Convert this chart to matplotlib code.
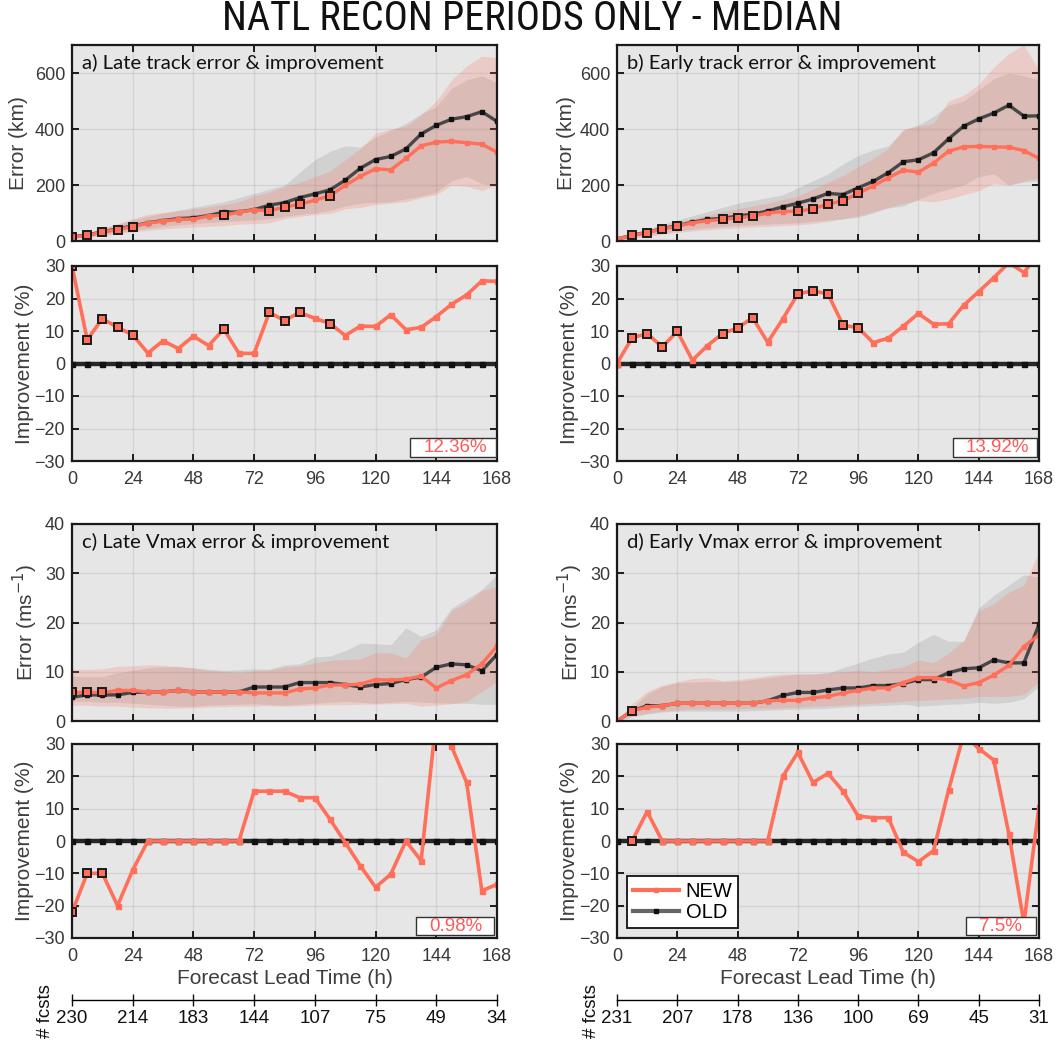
import numpy as np
import matplotlib
matplotlib.use("Agg")
import matplotlib.pyplot as plt
from matplotlib import font_manager
from matplotlib.lines import Line2D
from matplotlib.patches import Rectangle

plt.rcParams["font.family"] = ["Liberation Sans", "DejaVu Sans"]

HOURS = list(range(0, 169, 6))
XTICKS = [0, 24, 48, 72, 96, 120, 144, 168]

# ---- a) late track (km) ----
a_new = [14, 20, 32, 41, 51, 64, 71, 77, 78, 89, 92, 103, 111, 108, 121, 131, 146, 162,
         199, 231, 258, 254, 295, 340, 353, 356, 351, 346, 317]
a_old = [15, 22, 32, 44, 53, 65, 73, 80, 83, 91, 103, 104, 112, 128, 137, 155, 168, 183,
         217, 260, 291, 302, 329, 382, 413, 435, 444, 462, 427]
a_new_lo = [8, 12, 18, 25, 32, 38, 43, 47, 50, 52, 55, 60, 62, 65, 80, 88, 95, 98,
            115, 120, 130, 135, 140, 155, 165, 200, 195, 180, 200]
a_new_hi = [18, 28, 45, 62, 80, 95, 102, 108, 115, 122, 130, 140, 160, 175, 195, 210, 230, 250,
            290, 330, 385, 400, 410, 450, 500, 575, 625, 660, 655]
a_old_lo = [10, 15, 22, 30, 38, 45, 52, 58, 62, 66, 70, 72, 75, 80, 88, 95, 100, 110,
            125, 135, 138, 140, 150, 160, 175, 215, 230, 205, 195]
a_old_hi = [20, 30, 45, 60, 75, 88, 100, 110, 120, 130, 140, 155, 170, 185, 200, 245, 290, 320,
            340, 335, 370, 395, 420, 455, 480, 545, 575, 590, 565]
a_imp = [30, 7.3, 13.8, 11.1, 8.8, 3.2, 7.0, 4.6, 8.4, 5.5, 10.6, 3.1, 3.1, 15.7, 13.2, 15.7,
         13.9, 12.3, 8.6, 11.5, 11.4, 15.0, 10.4, 11.1, 14.4, 18.2, 21.1, 25.4, 25.3]
a_sig = [0, 6, 12, 18, 24, 60, 78, 84, 90, 102]

# ---- b) early track (km) ----
b_new = [7, 20, 30, 43, 53, 65, 72, 77, 83, 88, 100, 105, 106, 115, 132, 144, 170, 197,
         226, 253, 246, 278, 321, 336, 338, 336, 335, 323, 295]
b_old = [7, 21, 31, 44, 55, 67, 77, 81, 89, 96, 107, 122, 135, 150, 170, 166, 190, 213,
         244, 283, 290, 315, 365, 410, 436, 457, 485, 446, 447]
b_new_lo = [3, 10, 17, 24, 30, 36, 40, 44, 47, 50, 52, 55, 58, 62, 70, 80, 90, 105,
            120, 135, 145, 140, 150, 165, 180, 205, 200, 215, 225]
b_new_hi = [10, 25, 38, 55, 68, 80, 92, 105, 115, 125, 135, 148, 160, 185, 210, 235, 265, 295,
            330, 400, 410, 420, 500, 520, 560, 620, 670, 700, 610]
b_old_lo = [4, 12, 20, 28, 35, 42, 48, 52, 55, 58, 60, 63, 65, 70, 75, 78, 85, 100,
            118, 125, 150, 170, 185, 200, 230, 240, 200, 210, 215]
b_old_hi = [12, 28, 42, 60, 75, 90, 105, 120, 135, 145, 155, 165, 190, 215, 240, 275, 305, 325,
            340, 395, 415, 445, 485, 500, 540, 580, 600, 590, 575]
b_imp = [0, 7.9, 9.2, 5.1, 9.9, 1.0, 5.5, 9.2, 10.9, 14.1, 6.5, 13.7, 21.4, 22.4, 21.4, 11.8,
         11.0, 6.4, 7.8, 11.5, 15.4, 12.1, 12.2, 17.9, 22.1, 26.4, 31.0, 28.0, 34.0]
b_sig = [6, 12, 18, 24, 42, 48, 54, 72, 78, 84, 90, 96]

# ---- c) late Vmax (m/s) ----
c_new = [5.8, 5.8, 5.8, 6.2, 6.2, 5.9, 5.9, 6.2, 5.9, 5.9, 5.9, 5.9, 5.7, 5.7, 5.7, 6.5,
         6.7, 7.3, 7.3, 7.5, 8.4, 8.3, 8.5, 9.1, 6.7, 8.2, 9.4, 11.6, 15.2]
c_old = [4.8, 5.3, 5.3, 5.3, 5.8, 5.9, 5.9, 6.2, 5.9, 5.9, 5.9, 5.9, 6.9, 6.9, 6.9, 7.8,
         7.8, 7.8, 7.4, 6.9, 7.4, 7.6, 8.4, 8.9, 10.9, 11.6, 11.4, 10.2, 13.5]
c_new_lo = [3.2, 3.2, 3.0, 3.0, 2.8, 2.7, 2.6, 2.6, 2.7, 2.8, 2.9, 3.0, 3.0, 3.1, 3.0, 3.1,
            3.2, 3.3, 3.3, 3.4, 3.4, 3.5, 3.6, 3.0, 3.2, 3.5, 4.0, 6.0, 8.0]
c_new_hi = [10.5, 10.5, 10.6, 11.1, 11.2, 11.4, 11.3, 11.0, 10.8, 10.3, 10.0, 9.8, 10.2, 10.4,
            11.0, 11.2, 11.8, 12.3, 12.5, 12.6, 13.9, 13.8, 12.8, 16.5, 17.5, 22.4, 24.0, 26.5, 27.3]
c_old_lo = [4.0, 4.0, 3.8, 3.8, 3.6, 3.4, 3.2, 3.0, 3.0, 3.2, 3.3, 3.4, 3.5, 3.3, 3.2, 3.4,
            3.6, 3.8, 4.0, 3.8, 3.6, 3.8, 4.0, 3.8, 3.7, 3.6, 3.6, 3.4, 3.4]
c_old_hi = [9.1, 9.0, 9.0, 9.8, 10.3, 10.8, 11.0, 11.1, 10.8, 10.5, 10.3, 10.4, 10.6, 10.5,
            11.4, 11.6, 13.0, 13.2, 14.3, 15.8, 15.7, 15.5, 18.9, 17.2, 18.5, 22.9, 24.8, 26.7, 29.7]
c_imp = [-22.1, -10.0, -10.0, -20.0, -9.0, 0, 0, 0, 0, 0, 0, 0, 15.4, 15.4, 15.4, 13.4, 13.4,
         6.7, -0.5, -7.7, -14.3, -10.3, 0, -6.1, 38.0, 29.3, 18.1, -15.4, -13.4]
c_sig = [0, 6, 12]

# ---- d) early Vmax (m/s) ----
d_new = [0, 2.05, 2.8, 3.1, 3.6, 3.6, 3.6, 3.6, 3.6, 3.6, 4.1, 4.2, 4.2, 4.7, 5.0, 5.7,
         6.2, 6.7, 6.7, 7.8, 8.8, 8.8, 8.3, 7.1, 7.8, 9.3, 11.3, 15.1, 17.5]
d_old = [0, 2.05, 3.1, 3.1, 3.6, 3.6, 3.6, 3.6, 3.6, 3.6, 4.1, 5.2, 5.8, 5.8, 6.3, 6.7,
         6.7, 7.2, 7.2, 7.6, 8.4, 8.4, 9.8, 10.6, 10.8, 12.4, 11.8, 11.8, 19.6]
d_new_lo = [0, 1.0, 1.6, 2.0, 2.2, 2.4, 2.4, 2.4, 2.5, 2.6, 2.6, 2.7, 2.8, 3.0, 3.1, 3.2,
            3.4, 3.6, 3.8, 4.0, 4.2, 4.3, 4.5, 4.6, 5.0, 5.0, 5.0, 5.4, 8.0]
d_new_hi = [0, 3.5, 6.0, 7.3, 8.0, 8.6, 8.8, 8.2, 8.4, 8.8, 9.2, 9.6, 9.6, 9.5, 9.8, 10.0,
            10.3, 10.0, 10.5, 11.0, 12.4, 11.8, 13.8, 16.3, 22.4, 23.8, 26.2, 27.6, 34.4]
d_old_lo = [0, 0.8, 1.4, 1.8, 2.0, 2.0, 2.0, 2.0, 2.0, 2.1, 2.2, 2.3, 2.4, 2.5, 2.6, 2.8,
            3.0, 3.1, 3.2, 3.4, 3.0, 3.2, 3.4, 3.5, 3.8, 3.6, 3.8, 4.5, 7.0]
d_old_hi = [0, 2.5, 5.5, 7.0, 7.8, 7.9, 8.0, 8.0, 8.1, 8.4, 8.8, 9.2, 9.5, 9.6, 9.8, 10.8,
            11.8, 12.8, 13.6, 14.0, 16.0, 17.6, 16.2, 16.2, 23.0, 25.5, 27.6, 29.7, 29.2]
d_imp = [np.nan, 0, 9.1, 0, 0, 0, 0, 0, 0, 0, 0, 20.0, 27.4, 18.1, 20.9, 15.4, 7.7, 7.2,
         7.2, -3.5, -6.4, -3.0, 15.7, 33.0, 28.6, 25.0, 2.2, -25.4, 10.6]
d_sig = [6]

PCT = ["12.36%", "13.92%", "0.98%", "7.5%"]
NFC_LEFT = ["230", "214", "183", "144", "107", "75", "49", "34"]
NFC_RIGHT = ["231", "207", "178", "136", "100", "69", "45", "31"]

NEW_C = "#ff6f59"
OLD_C = "#474747"
BG = "#e6e6e6"
TXT = "#3d3d3d"

W, H = 1064, 1040


def rect(x0, y0, x1, y1):
    return [x0 / W, 1 - y1 / H, (x1 - x0) / W, (y1 - y0) / H]


def narrow_font():
    # a condensed sans for the headline, if one is installed
    prefer = ["Liberation Sans Narrow", "Roboto Condensed", "Open Sans Condensed",
              "Noto Sans", "DejaVu Sans", "Roboto", "Open Sans", "Lato"]
    cands = []
    for f in font_manager.fontManager.ttflist:
        cond = ("Narrow" in f.name or "Condensed" in f.name
                or f.stretch in ("condensed", "semi-condensed", "extra-condensed"))
        if not cond or f.style != "normal":
            continue
        w = f.weight if isinstance(f.weight, int) else 400
        if w < 300 or w > 450:
            continue
        rank = prefer.index(f.name) if f.name in prefer else len(prefer)
        cands.append((rank, abs(w - 400), f.fname))
    if cands:
        cands.sort()
        return font_manager.FontProperties(fname=cands[0][2])
    return font_manager.FontProperties(family="Liberation Sans")


def style(ax, ylim, yticks, show_x):
    ax.set_facecolor(BG)
    ax.set_xlim(0, 168)
    ax.set_ylim(*ylim)
    ax.set_xticks(XTICKS)
    ax.set_yticks(yticks)
    ax.grid(True, color="#262626", alpha=0.09, lw=1.0)
    ax.set_axisbelow(True)
    ax.tick_params(direction="in", length=5, width=1.4, top=True, right=True,
                   labelsize=13, colors="#1a1a1a", labelcolor="#383838", pad=5)
    ax.tick_params(axis="x", pad=7)
    if not show_x:
        ax.tick_params(labelbottom=False)
    for s in ax.spines.values():
        s.set_linewidth(1.6)
        s.set_color("#1a1a1a")


def draw_error(ax, new, old, nlo, nhi, olo, ohi, sig, ylim, yticks, title, ylabel, lx):
    h = np.array(HOURS)
    style(ax, ylim, yticks, False)
    ax.fill_between(h, olo, ohi, color="k", alpha=0.09, lw=0)
    ax.fill_between(h, nlo, nhi, color=NEW_C, alpha=0.22, lw=0)
    ax.plot(h, old, "-s", color=OLD_C, lw=2.4, ms=3.3, mfc="#111111", mec="#111111")
    ax.plot(h, new, "-s", color=NEW_C, lw=2.4, ms=3.3, mfc=NEW_C, mec=NEW_C)
    idx = [HOURS.index(t) for t in sig]
    ax.plot(h[idx], np.array(new)[idx], "s", ms=6.3, mfc=NEW_C, mec="#1a1a1a", mew=1.4)
    ax.text(0.023, 0.955, title, transform=ax.transAxes, ha="left", va="top",
            fontsize=14.6, family=["Lato", "DejaVu Sans"], color="#111111")
    ax.set_ylabel(ylabel, fontsize=15, color=TXT)
    ax.yaxis.set_label_coords(lx, 0.5)


def draw_imp(ax, imp, sig, pct, box, lx, show_label):
    h = np.array(HOURS)
    style(ax, (-30, 30), range(-30, 31, 10), True)
    ax.plot(h, np.zeros(len(h)), "-s", color="#262626", lw=3.2, ms=3.6,
            mfc="#111111", mec="#111111")
    ax.plot(h, imp, "-s", color=NEW_C, lw=2.6, ms=3.6, mfc=NEW_C, mec=NEW_C)
    idx = [HOURS.index(t) for t in sig]
    ax.plot(h[idx], np.array(imp)[idx], "s", ms=6.3, mfc=NEW_C, mec="#1a1a1a", mew=1.4)
    x0, y0, w, hh, xt = box
    ax.add_patch(Rectangle((x0, y0), w, hh, transform=ax.transAxes, facecolor="white",
                           edgecolor="#333333", lw=1.0, zorder=5))
    ax.text(xt, y0 + hh / 2, pct, transform=ax.transAxes, ha="right", va="center",
            fontsize=13.5, color="#ff5a5a", zorder=6)
    ax.set_ylabel("Improvement (%)", fontsize=15, color=TXT)
    ax.yaxis.set_label_coords(lx, 0.5)
    if show_label:
        ax.set_xlabel("Forecast Lead Time (h)", fontsize=15, color=TXT, labelpad=3)


def draw_count(rect_, labels, xlab):
    ax = fig.add_axes(rect_)
    ax.set_xlim(0, 168)
    ax.set_xticks(XTICKS)
    ax.set_xticklabels(labels)
    ax.set_yticks([])
    for k in ["top", "left", "right"]:
        ax.spines[k].set_visible(False)
    ax.spines["bottom"].set_linewidth(1.0)
    ax.patch.set_visible(False)
    ax.tick_params(axis="x", direction="inout", length=9, width=1.0, labelsize=13.5,
                   colors="#111111", pad=3)
    fig.text(xlab / W, 1 - 1011 / H, "# fcsts", rotation=90, ha="center", va="center",
             fontsize=13.5, color="#111111")


fig = plt.figure(figsize=(W / 100, H / 100), dpi=100)

ax_a = fig.add_axes(rect(72, 45, 497, 241))
ax_ai = fig.add_axes(rect(72, 266, 497, 461))
ax_b = fig.add_axes(rect(617, 45, 1039, 241))
ax_bi = fig.add_axes(rect(617, 266, 1039, 461))
ax_c = fig.add_axes(rect(72, 524, 497, 721))
ax_ci = fig.add_axes(rect(72, 744, 497, 938))
ax_d = fig.add_axes(rect(617, 524, 1039, 721))
ax_di = fig.add_axes(rect(617, 744, 1039, 938))

draw_error(ax_a, a_new, a_old, a_new_lo, a_new_hi, a_old_lo, a_old_hi, a_sig,
           (0, 700), [0, 200, 400, 600], "a) Late track error & improvement", "Error (km)", -0.104)
draw_error(ax_b, b_new, b_old, b_new_lo, b_new_hi, b_old_lo, b_old_hi, b_sig,
           (0, 700), [0, 200, 400, 600], "b) Early track error & improvement", "Error (km)", -0.097)
draw_error(ax_c, c_new, c_old, c_new_lo, c_new_hi, c_old_lo, c_old_hi, c_sig,
           (0, 40), [0, 10, 20, 30, 40], "c) Late Vmax error & improvement",
           "Error (ms$^{-1}$)", -0.075)
draw_error(ax_d, d_new, d_old, d_new_lo, d_new_hi, d_old_lo, d_old_hi, d_sig,
           (0, 40), [0, 10, 20, 30, 40], "d) Early Vmax error & improvement",
           "Error (ms$^{-1}$)", -0.076)

draw_imp(ax_ai, a_imp, a_sig, PCT[0], (0.795, 0.02, 0.202, 0.097, 0.976), -0.089, False)
draw_imp(ax_bi, b_imp, b_sig, PCT[1], (0.796, 0.02, 0.199, 0.097, 0.976), -0.090, False)
draw_imp(ax_ci, c_imp, c_sig, PCT[2], (0.809, 0.015, 0.184, 0.093, 0.967), -0.089, True)
draw_imp(ax_di, d_imp, d_sig, PCT[3], (0.827, 0.015, 0.166, 0.093, 0.960), -0.090, True)

handles = [Line2D([], [], color=NEW_C, lw=3, marker="s", ms=3.5, mfc=NEW_C, mec=NEW_C),
           Line2D([], [], color="#666666", lw=3, marker="s", ms=3.5, mfc="#111111", mec="#111111")]
leg = ax_di.legend(handles, ["NEW", "OLD"], loc="lower left", bbox_to_anchor=(0.024, 0.052),
                   fontsize=14.5, frameon=True, fancybox=False, borderaxespad=0,
                   handlelength=2.3, handletextpad=0.3, labelspacing=0.1, borderpad=0.3)
leg.get_frame().set_edgecolor("#111111")
leg.get_frame().set_linewidth(1.3)
leg.get_frame().set_alpha(1)
leg.set_zorder(7)

draw_count(rect(72, 999, 497, 1000), NFC_LEFT, 45)
draw_count(rect(617, 999, 1039, 1000), NFC_RIGHT, 592)

# headline: fit to the width it has in the reference (~618 px)
fp = narrow_font()
fp.set_size(25)
sup = fig.text(0.5, 1 - 19 / H, "NATL RECON PERIODS ONLY - MEDIAN", ha="center", va="center",
               fontproperties=fp, color="#111111")
fig.canvas.draw()
wpx = sup.get_window_extent().width
fp.set_size(25 * 618 / wpx)
sup.set_fontproperties(fp)

fig.savefig("out.png", dpi=100)
